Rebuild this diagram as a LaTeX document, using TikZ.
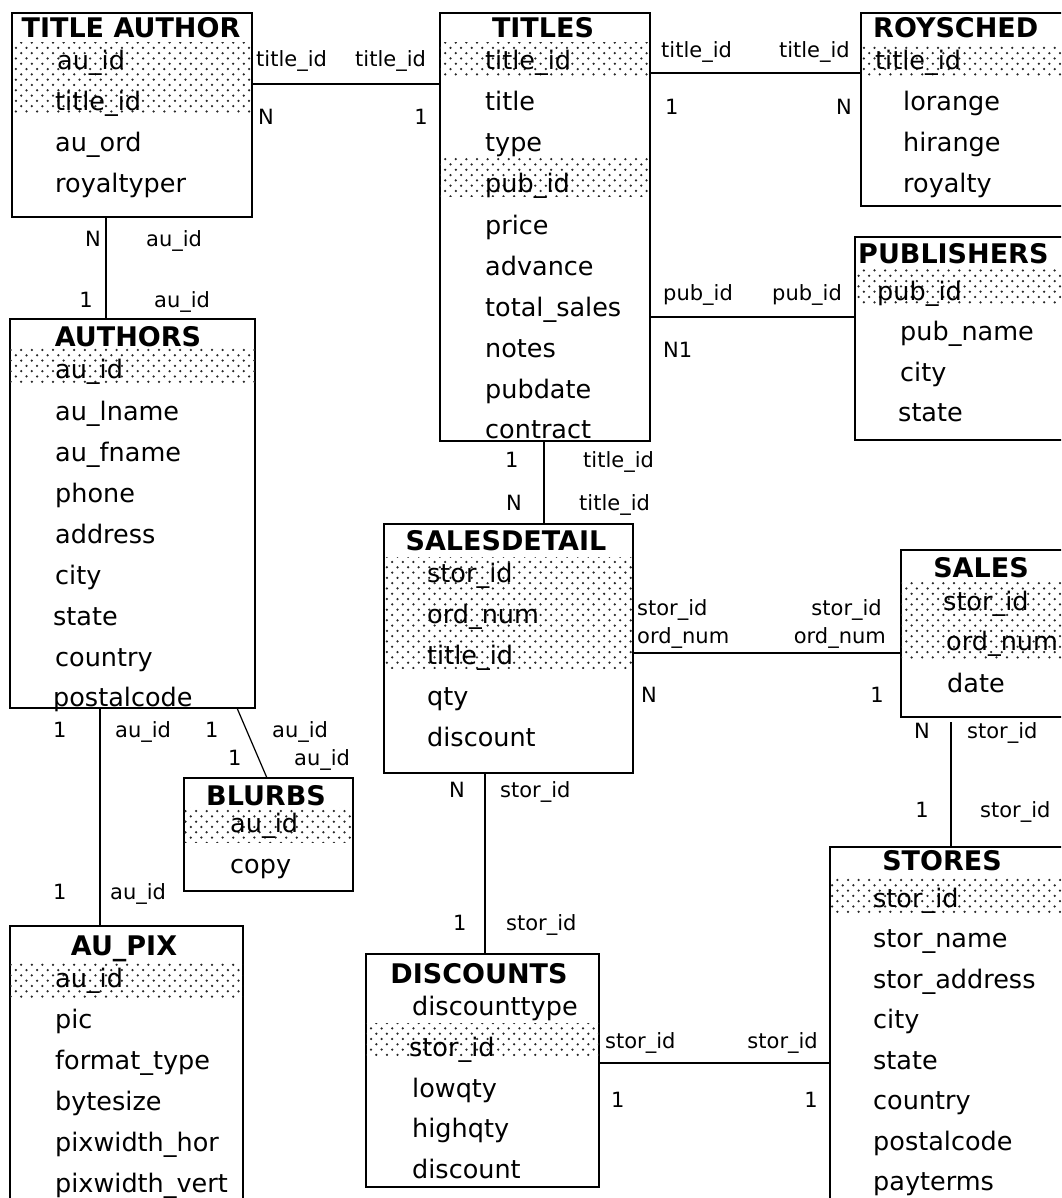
\documentclass[tikz,border=0pt]{standalone}
\usepackage{fontspec}
\setmainfont{DejaVu Sans}
\usetikzlibrary{patterns}

% sparse staggered dots for the key columns
\pgfdeclarepatternformonly{keydots}{\pgfqpoint{-1.5pt}{-1.5pt}}{\pgfqpoint{7pt}{7pt}}{\pgfqpoint{10.6pt}{10.6pt}}
{
  \pgfpathcircle{\pgfqpoint{0pt}{0pt}}{1.25pt}
  \pgfpathcircle{\pgfqpoint{5.3pt}{5.3pt}}{1.25pt}
  \pgfusepath{fill}
}

\begin{document}
\begin{tikzpicture}[x=1pt,y=-1pt,
  tbl/.style={draw,line width=2pt,inner sep=0pt,outer sep=0pt,anchor=north west},
  keyband/.style={pattern=keydots,pattern color=black!85},
  ttl/.style={font=\fontsize{27}{27}\selectfont\bfseries,inner sep=0pt,anchor=base},
  fld/.style={font=\fontsize{25.5}{25.5}\selectfont,inner sep=0pt,anchor=base west},
  lbl/.style={font=\fontsize{21}{21}\selectfont,inner sep=0pt,anchor=base west},
  lblr/.style={lbl,anchor=base east},
  link/.style={line width=1.7pt}]
\useasboundingbox (0,0) rectangle (1061,1198);
\clip (0,0) rectangle (1061,1198);

% tables
\node[tbl,minimum width=240,minimum height=204] (tauthor) at (12,13) {};
\node[tbl,minimum width=210,minimum height=428] (titles) at (440,13) {};
\node[tbl,minimum width=240,minimum height=193] (roysched) at (861,13) {};
\node[tbl,minimum width=245,minimum height=203] (publishers) at (855,237) {};
\node[tbl,minimum width=245,minimum height=389] (authors) at (10,319) {};
\node[tbl,minimum width=169,minimum height=113] (blurbs) at (184,778) {};
\node[tbl,minimum width=233,minimum height=304] (aupix) at (10,926) {};
\node[tbl,minimum width=249,minimum height=249] (sdetail) at (384,524) {};
\node[tbl,minimum width=200,minimum height=167] (sales) at (901,550) {};
\node[tbl,minimum width=270,minimum height=383] (stores) at (830,847) {};
\node[tbl,minimum width=233,minimum height=233] (discounts) at (366,954) {};

% key columns
\fill[keyband] (tauthor.west |- 0,43) rectangle (tauthor.east |- 0,115);
\fill[keyband] (titles.west |- 0,43) rectangle (titles.east |- 0,77);
\fill[keyband] (titles.west |- 0,157) rectangle (titles.east |- 0,197);
\fill[keyband] (roysched.west |- 0,45) rectangle (roysched.east |- 0,78);
\fill[keyband] (publishers.west |- 0,269) rectangle (publishers.east |- 0,305);
\fill[keyband] (authors.west |- 0,347) rectangle (authors.east |- 0,385);
\fill[keyband] (blurbs.west |- 0,807) rectangle (blurbs.east |- 0,842);
\fill[keyband] (aupix.west |- 0,962) rectangle (aupix.east |- 0,1000);
\fill[keyband] (sdetail.west |- 0,557) rectangle (sdetail.east |- 0,668);
\fill[keyband] (sales.west |- 0,582) rectangle (sales.east |- 0,658);
\fill[keyband] (stores.west |- 0,878) rectangle (stores.east |- 0,913);
\fill[keyband] (discounts.west |- 0,1023) rectangle (discounts.east |- 0,1057);

% TITLE AUTHOR
\node[ttl] (ta-t) at (131,38) {TITLE AUTHOR};
\node[fld] (ta-1) at (57,70) {au\_id};
\node[fld] (ta-2) at (55,111) {title\_id};
\node[fld] (ta-3) at (55,152) {au\_ord};
\node[fld] (ta-4) at (55,193) {royaltyper};

% TITLES
\node[ttl] (ti-t) at (543,38) {TITLES};
\node[fld] (ti-1) at (485,70) {title\_id};
\node[fld] (ti-2) at (485,111) {title};
\node[fld] (ti-3) at (485,152) {type};
\node[fld] (ti-4) at (485,193) {pub\_id};
\node[fld] (ti-5) at (485,234) {price};
\node[fld] (ti-6) at (485,275) {advance};
\node[fld] (ti-7) at (485,316) {total\_sales};
\node[fld] (ti-8) at (485,357) {notes};
\node[fld] (ti-9) at (485,398) {pubdate};
\node[fld] (ti-10) at (485,438) {contract};

% ROYSCHED
\node[ttl,anchor=base west] (ro-t) at (873,38) {ROYSCHED};
\node[fld] (ro-1) at (875,70) {title\_id};
\node[fld] (ro-2) at (903,111) {lorange};
\node[fld] (ro-3) at (903,152) {hirange};
\node[fld] (ro-4) at (903,193) {royalty};

% PUBLISHERS
\node[ttl,anchor=base west] (pu-t) at (858,263) {PUBLISHERS};
\node[fld] (pu-1) at (877,300) {pub\_id};
\node[fld] (pu-2) at (900,340) {pub\_name};
\node[fld] (pu-3) at (900,381) {city};
\node[fld] (pu-4) at (898,421) {state};

% AUTHORS
\node[ttl] (au-t) at (128,346) {AUTHORS};
\node[fld] (au-1) at (55,378) {au\_id};
\node[fld] (au-2) at (55,420) {au\_lname};
\node[fld] (au-3) at (55,461) {au\_fname};
\node[fld] (au-4) at (55,502) {phone};
\node[fld] (au-5) at (55,543) {address};
\node[fld] (au-6) at (55,584) {city};
\node[fld] (au-7) at (53,625) {state};
\node[fld] (au-8) at (55,666) {country};
\node[fld] (au-9) at (53,706) {postalcode};

% BLURBS
\node[ttl] (bl-t) at (266,805) {BLURBS};
\node[fld] (bl-1) at (230,832) {au\_id};
\node[fld] (bl-2) at (230,873) {copy};

% AU_PIX
\node[ttl] (ap-t) at (124,955) {AU\_PIX};
\node[fld] (ap-1) at (55,987) {au\_id};
\node[fld] (ap-2) at (55,1028) {pic};
\node[fld] (ap-3) at (55,1069) {format\_type};
\node[fld] (ap-4) at (55,1110) {bytesize};
\node[fld] (ap-5) at (55,1151) {pixwidth\_hor};
\node[fld] (ap-6) at (55,1192) {pixwidth\_vert};

% SALESDETAIL
\node[ttl] (sd-t) at (506,550) {SALESDETAIL};
\node[fld] (sd-1) at (427,582) {stor\_id};
\node[fld] (sd-2) at (427,623) {ord\_num};
\node[fld] (sd-3) at (427,664) {title\_id};
\node[fld] (sd-4) at (427,705) {qty};
\node[fld] (sd-5) at (427,746) {discount};

% SALES
\node[ttl] (sa-t) at (981,577) {SALES};
\node[fld] (sa-1) at (943,610) {stor\_id};
\node[fld] (sa-2) at (946,650) {ord\_num};
\node[fld] (sa-3) at (947,692) {date};

% STORES
\node[ttl] (st-t) at (942,870) {STORES};
\node[fld] (st-1) at (873,907) {stor\_id};
\node[fld] (st-2) at (873,947) {stor\_name};
\node[fld] (st-3) at (873,988) {stor\_address};
\node[fld] (st-4) at (873,1028) {city};
\node[fld] (st-5) at (873,1069) {state};
\node[fld] (st-6) at (873,1109) {country};
\node[fld] (st-7) at (873,1150) {postalcode};
\node[fld] (st-8) at (873,1190) {payterms};

% DISCOUNTS
\node[ttl] (di-t) at (479,983) {DISCOUNTS};
\node[fld] (di-1) at (412,1015) {discounttype};
\node[fld] (di-2) at (409,1056) {stor\_id};
\node[fld] (di-3) at (412,1097) {lowqty};
\node[fld] (di-4) at (412,1137) {highqty};
\node[fld] (di-5) at (412,1178) {discount};

% relationships
\draw[link] (tauthor.east |- 0,84) -- (titles.west |- 0,84);
\node[lbl] (l1a) at (256,67) {title\_id};
\node[lbl] (l1b) at (355,67) {title\_id};
\node[lbl] (l1c) at (258,125) {N};
\node[lblr] (l1d) at (428,125) {1};

\draw[link] (titles.east |- 0,73) -- (roysched.west |- 0,73);
\node[lbl] (l2a) at (661,58) {title\_id};
\node[lblr] (l2b) at (850,58) {title\_id};
\node[lbl] (l2c) at (665,115) {1};
\node[lblr] (l2d) at (852,115) {N};

\draw[link] (titles.east |- 0,317) -- (publishers.west |- 0,317);
\node[lbl] (l3a) at (663,300) {pub\_id};
\node[lblr] (l3b) at (842,300) {pub\_id};
\node[lbl] (l3c) at (663,357) {N1};

\draw[link] (tauthor.south -| 106,0) -- (authors.north -| 106,0);
\node[lblr] (l4a) at (101,247) {N};
\node[lbl] (l4b) at (146,247) {au\_id};
\node[lblr] (l4c) at (93,307) {1};
\node[lbl] (l4d) at (154,307) {au\_id};

\draw[link] (authors.south -| 100,0) -- (aupix.north -| 100,0);
\node[lbl] (l5a) at (53,737) {1};
\node[lbl] (l5b) at (115,737) {au\_id};
\node[lbl] (l5c) at (53,899) {1};
\node[lbl] (l5d) at (110,899) {au\_id};

\draw[line width=1.2pt] (authors.south -| 237,0) -- (blurbs.north -| 267,0);
\node[lbl] (l6a) at (205,737) {1};
\node[lbl] (l6b) at (272,737) {au\_id};
\node[lbl] (l6c) at (228,765) {1};
\node[lbl] (l6d) at (294,765) {au\_id};

\draw[link] (titles.south -| 544,0) -- (sdetail.north -| 544,0);
\node[lbl] (l7a) at (505,467) {1};
\node[lbl] (l7b) at (583,467) {title\_id};
\node[lbl] (l7c) at (506,510) {N};
\node[lbl] (l7d) at (579,510) {title\_id};

\draw[link] (sdetail.east |- 0,653) -- (sales.west |- 0,653);
\node[lbl] (l8a) at (637,615) {stor\_id};
\node[lbl] (l8b) at (637,643) {ord\_num};
\node[lblr] (l8c) at (882,615) {stor\_id};
\node[lblr] (l8d) at (886,643) {ord\_num};
\node[lbl] (l8e) at (641,702) {N};
\node[lblr] (l8f) at (884,702) {1};

\coordinate (sa-s) at (951,722);
\draw[link] (sa-s) -- (stores.north -| sa-s);
\node[lblr] (l9a) at (930,738) {N};
\node[lbl] (l9b) at (967,738) {stor\_id};
\node[lblr] (l9c) at (929,817) {1};
\node[lbl] (l9d) at (980,817) {stor\_id};

\draw[link] (sdetail.south -| 485,0) -- (discounts.north -| 485,0);
\node[lbl] (l10a) at (449,797) {N};
\node[lbl] (l10b) at (500,797) {stor\_id};
\node[lbl] (l10c) at (453,930) {1};
\node[lbl] (l10d) at (506,930) {stor\_id};

\draw[link] (discounts.east |- 0,1063) -- (stores.west |- 0,1063);
\node[lbl] (l11a) at (605,1048) {stor\_id};
\node[lblr] (l11b) at (818,1048) {stor\_id};
\node[lbl] (l11c) at (611,1107) {1};
\node[lblr] (l11d) at (818,1107) {1};
\end{tikzpicture}
\end{document}
